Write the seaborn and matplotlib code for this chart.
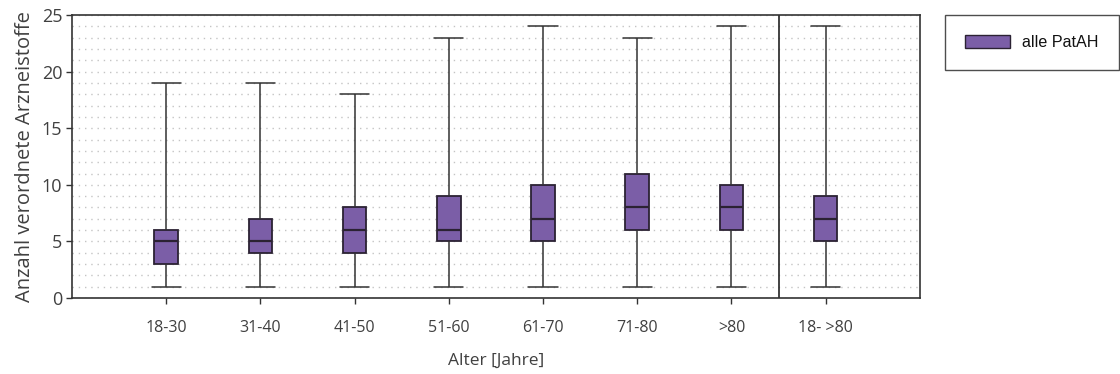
import numpy as np
import pandas as pd
import seaborn as sns
import matplotlib.pyplot as plt
from matplotlib.patches import Patch
from matplotlib.ticker import MultipleLocator

# Data: five-number summaries (min, q1, median, q3, max) per age group
categories = ["18-30", "31-40", "41-50", "51-60", "61-70", "71-80", ">80", "18- >80"]
mins    = [1, 1, 1, 1, 1, 1, 1, 1]
q1s     = [3, 4, 4, 5, 5, 6, 6, 5]
medians = [5, 5, 6, 6, 7, 8, 8, 7]
q3s     = [6, 7, 8, 9, 10, 11, 10, 9]
maxs    = [19, 19, 18, 23, 24, 23, 24, 24]
series_label = "alle PatAH"

rows = []
for c, a, b, m, d, e in zip(categories, mins, q1s, medians, q3s, maxs):
    for v in (a, b, m, d, e):
        rows.append({"Alter": c, "Anzahl": v})
df = pd.DataFrame(rows)

sns.set_theme(style="white")
plt.rcParams['font.family'] = ['Open Sans', 'DejaVu Sans']

fig = plt.figure(figsize=(11.2, 3.74), dpi=100)
ax = fig.add_axes([0.0643, 0.203, 0.757, 0.757])

fill = "#7b5ea7"
edge = "#2b2233"
wcol = "#333333"
sns.boxplot(data=df, x="Alter", y="Anzahl", order=categories, whis=(0, 100),
            width=0.25, color=fill, saturation=1, linewidth=1.3,
            linecolor=edge, showfliers=False, ax=ax,
            capprops=dict(color=wcol, linewidth=1.1),
            whiskerprops=dict(color=wcol, linewidth=1.1),
            medianprops=dict(color=edge, linewidth=1.6))

# widen whisker caps to match the reference
cap_half = 0.155
for line in ax.lines:
    xd = np.asarray(line.get_xdata(), dtype=float)
    yd = np.asarray(line.get_ydata(), dtype=float)
    if len(xd) == 2 and yd[0] == yd[1] and xd[0] != xd[1]:
        cx = (xd[0] + xd[1]) / 2
        i = int(round(cx))
        if yd[0] in (mins[i], maxs[i]):
            line.set_xdata([cx - cap_half, cx + cap_half])

ax.set_xlim(-1, 8)
ax.set_ylim(0, 25)
ax.yaxis.set_major_locator(MultipleLocator(5))
ax.yaxis.set_minor_locator(MultipleLocator(1))
ax.grid(which="both", axis="y", color="#c4c4c4", linestyle=(0, (1, 3.5)), linewidth=1.0)
ax.set_axisbelow(True)
ax.axvline(6.5, color="#222222", linewidth=1.2)

for s in ax.spines.values():
    s.set_color("#333333")
    s.set_linewidth(1.2)
ax.tick_params(axis="y", which="major", left=True, length=4, width=1, color="#333333",
               labelsize=13, labelcolor="#404040", pad=3)
ax.tick_params(axis="y", which="minor", left=False)
ax.tick_params(axis="x", bottom=True, length=4, width=1, color="#333333",
               labelsize=11.5, labelcolor="#404040", pad=12)
ax.set_xlabel("Alter [Jahre]", fontsize=12.5, color="#404040", labelpad=12)
ax.set_ylabel("Anzahl verordnete Arzneistoffe", fontsize=14.5, color="#404040", labelpad=5)

handle = Patch(facecolor=fill, edgecolor=edge, linewidth=1)
leg = fig.legend([handle], [series_label], loc="upper left",
                 bbox_to_anchor=(945 / 1120, 1 - 15 / 374),
                 frameon=True, fancybox=False, edgecolor="#222222",
                 prop={"family": "Liberation Sans", "size": 11.6},
                 handlelength=2.8, handleheight=0.85, borderpad=1.25, handletextpad=0.75,
                 borderaxespad=0)
leg.get_frame().set_linewidth(1.0)
for t in leg.get_texts():
    t.set_color("#111111")

fig.savefig("out.png", dpi=100)
